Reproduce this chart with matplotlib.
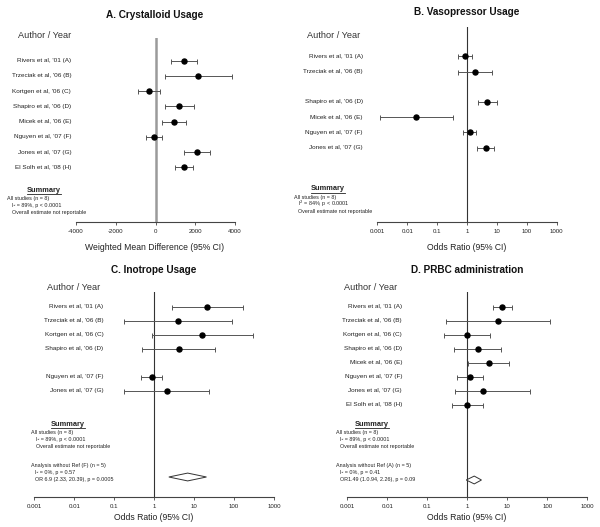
"""Four-panel forest plot: crystalloid, vasopressor, inotrope and PRBC usage."""

import matplotlib

matplotlib.use("Agg")
import matplotlib.pyplot as plt
from matplotlib.lines import Line2D
from matplotlib.patches import Polygon

plt.rcParams["font.family"] = ["Liberation Sans", "DejaVu Sans"]

W, H = 600, 527

# ---- data ---------------------------------------------------------------
a_labels = ["Rivers et al, '01 (A)", "Trzeciak et al, '06 (B)", "Kortgen et al, '06 (C)",
            "Shapiro et al, '06 (D)", "Micek et al, '06 (E)", "Nguyen et al, '07 (F)",
            "Jones et al, '07 (G)", "El Solh et al, '08 (H)"]
a_rows = [0, 1, 2, 3, 4, 5, 6, 7]
a_est = [1450, 2140, -330, 1200, 930, -90, 2090, 1450]
a_lo = [800, 480, -865, 480, 340, -480, 1430, 970]
a_hi = [2100, 3860, 230, 1950, 1520, 330, 2760, 1900]

b_labels = ["Rivers et al, '01 (A)", "Trzeciak et al, '06 (B)", "Shapiro et al, '06 (D)",
            "Micek et al, '06 (E)", "Nguyen et al, '07 (F)", "Jones et al, '07 (G)"]
b_rows = [0, 1, 3, 4, 5, 6]
b_est = [0.86, 1.8, 4.8, 0.02, 1.26, 4.2]
b_lo = [0.51, 0.49, 2.27, 0.0012, 0.75, 2.1]
b_hi = [1.51, 6.7, 10.3, 0.35, 2.0, 8.2]

c_labels = ["Rivers et al, '01 (A)", "Trzeciak et al, '06 (B)", "Kortgen et al, '06 (C)",
            "Shapiro et al, '06 (D)", "Nguyen et al, '07 (F)", "Jones et al, '07 (G)"]
c_rows = [0, 1, 2, 3, 5, 6]
c_est = [20.8, 4.0, 15.6, 4.07, 0.86, 2.07]
c_lo = [2.77, 0.18, 0.89, 0.51, 0.48, 0.18]
c_hi = [163, 91, 300, 34, 1.53, 23]
c_pooled = (6.9, 2.33, 20.39)

d_labels = a_labels
d_rows = [0, 1, 2, 3, 4, 5, 6, 7]
d_est = [7.5, 5.96, 1.0, 1.81, 3.4, 1.14, 2.46, 1.0]
d_lo = [4.47, 0.29, 0.26, 0.46, 1.06, 0.56, 0.48, 0.42]
d_hi = [13.1, 119, 3.76, 7.1, 11.2, 2.4, 37.6, 2.4]
d_pooled = (1.49, 0.94, 2.26)

or_ticks = [0.001, 0.01, 0.1, 1, 10, 100, 1000]
or_ticklabels = ["0.001", "0.01", "0.1", "1", "10", "100", "1000"]
wmd_ticks = [-4000, -2000, 0, 2000, 4000]

summary_all = ["All studies (n = 8)", "I\u00b2 = 89%, p < 0.0001", "Overall estimate not reportable"]
summary_b = ["All studies (n = 8)", "I$^2$ = 84%, p < 0.0001", "Overall estimate not reportable"]
summary_c = ["Analysis without Ref (F) (n = 5)", "I\u00b2 = 0%, p = 0.57",
             "OR 6.9 (2.33, 20.39), p = 0.0005"]
summary_d = ["Analysis without Ref (A) (n = 5)", "I\u00b2 = 0%, p = 0.41",
             "OR1.49 (1.0.94, 2.26), p = 0.09"]

LABEL_FS = 4.6
TITLE_FS = 7.2
HEAD_FS = 6.6
XLAB_FS = 6.2
SMALL_FS = 3.9

fig = plt.figure(figsize=(W / 100, H / 100), dpi=100)
fig.patch.set_facecolor("white")


def fx(x):
    return x / W


def fy(y):
    return 1 - y / H


def make_axes(x0, x1, top, bottom, row0, step):
    ax = fig.add_axes([fx(x0), fy(bottom), fx(x1 - x0), (bottom - top) / H])
    ax.set_ylim((bottom - row0) / step, (top - row0) / step)
    for s in ("top", "right", "left"):
        ax.spines[s].set_visible(False)
    ax.spines["bottom"].set_color("#444444")
    ax.spines["bottom"].set_linewidth(0.8)
    ax.set_yticks([])
    ax.tick_params(axis="x", which="major", length=2.5, width=0.6, color="#444444",
                   labelsize=4.4, pad=2.5, labelcolor="#222222")
    ax.tick_params(axis="x", which="minor", length=0)
    ax.patch.set_alpha(0)
    return ax


def draw_studies(ax, rows, est, lo, hi, labels, label_x):
    xerr = [[e - l for e, l in zip(est, lo)], [h - e for e, h in zip(est, hi)]]
    ax.errorbar(est, rows, xerr=xerr, fmt="o", color="black", ms=3.6,
                ecolor="#555555", elinewidth=0.7, capsize=1.8, capthick=0.7, zorder=3)
    for r, lab in zip(rows, labels):
        ax.text(label_x, r, lab, transform=ax.get_yaxis_transform(), ha="right",
                va="center", fontsize=LABEL_FS, color="#222222", clip_on=False)


def draw_diamond(ax, pooled, row, half):
    est, lo, hi = pooled
    poly = Polygon([(lo, row), (est, row - half), (hi, row), (est, row + half)],
                   closed=True, facecolor="white", edgecolor="#333333", lw=0.7, zorder=3)
    ax.add_patch(poly)


def summary_block(cx, y, lines, x_left, indent, gap=6.8):
    t = fig.text(fx(cx), fy(y), "Summary", ha="center", va="center", fontsize=5.3,
                 fontweight="bold", color="#222222")
    fig.canvas.draw()
    bb = t.get_window_extent()
    fig.add_artist(Line2D([bb.x0 / W, bb.x1 / W], [(bb.y0 - 0.6) / H] * 2,
                          color="#222222", lw=0.6))
    for i, line in enumerate(lines):
        fig.text(fx(x_left + (indent if i > 0 else 0)), fy(y + 8.5 + i * gap), line,
                 ha="left", va="center", fontsize=SMALL_FS, color="#222222")


def sub_block(y, lines, x_left, indent, gap=6.8):
    for i, line in enumerate(lines):
        fig.text(fx(x_left + (indent if i > 0 else 0)), fy(y + i * gap), line,
                 ha="left", va="center", fontsize=SMALL_FS, color="#222222")


def headers(cx, title, title_y, head_x, head_y, xlabel, xlabel_y):
    fig.text(fx(cx), fy(title_y), title, ha="center", va="center",
             fontsize=TITLE_FS, fontweight="bold", color="#111111")
    fig.text(fx(head_x), fy(head_y), "Author / Year", ha="left", va="center",
             fontsize=HEAD_FS, color="#333333")
    fig.text(fx(cx), fy(xlabel_y), xlabel, ha="center", va="center",
             fontsize=XLAB_FS, color="#222222")


def or_axis(ax):
    ax.set_xscale("log")
    ax.set_xlim(0.001, 1000)
    ax.set_xticks(or_ticks)
    ax.set_xticklabels(or_ticklabels)
    ax.axvline(1, color="#333333", lw=0.8, zorder=1)


# ---- A. Crystalloid ------------------------------------------------------
ax_a = make_axes(76, 235, 38, 222, 60.7, 15.23)
ax_a.set_xlim(-4000, 4000)
ax_a.set_xticks(wmd_ticks)
ax_a.set_xticklabels([str(t) for t in wmd_ticks])
ax_a.axvline(0, color="#9a9a9a", lw=1.8, zorder=1)
draw_studies(ax_a, a_rows, a_est, a_lo, a_hi, a_labels, -0.03)
headers(155, "A. Crystalloid Usage", 15, 18, 36, "Weighted Mean Difference (95% CI)", 248)
summary_block(44, 190, summary_all, 7, 4.5)

# ---- B. Vasopressor ------------------------------------------------------
ax_b = make_axes(377.3, 556.7, 27, 222, 56.3, 15.23)
or_axis(ax_b)
draw_studies(ax_b, b_rows, b_est, b_lo, b_hi, b_labels, -0.08)
headers(467, "B. Vasopressor Usage", 12, 307, 36, "Odds Ratio (95% CI)", 248)
summary_block(328, 189, summary_b, 294, 4.5)

# ---- C. Inotrope ---------------------------------------------------------
ax_c = make_axes(34.3, 274, 291.7, 497.3, 306.7, 14.0)
or_axis(ax_c)
draw_studies(ax_c, c_rows, c_est, c_lo, c_hi, c_labels, 0.288)
draw_diamond(ax_c, c_pooled, (477 - 306.7) / 14.0, 0.28)
headers(154, "C. Inotrope Usage", 270, 47, 287, "Odds Ratio (95% CI)", 518)
summary_block(68, 424, summary_all, 31, 4.5)
sub_block(466, summary_c, 31, 4)

# ---- D. PRBC -------------------------------------------------------------
ax_d = make_axes(347.3, 587.3, 291.7, 497.3, 306.7, 14.0)
or_axis(ax_d)
draw_studies(ax_d, d_rows, d_est, d_lo, d_hi, d_labels, 0.228)
draw_diamond(ax_d, d_pooled, (480 - 306.7) / 14.0, 0.28)
headers(467, "D. PRBC administration", 270, 344, 287, "Odds Ratio (95% CI)", 518)
summary_block(372, 424, summary_all, 336, 3.5)
sub_block(466, summary_d, 336, 3.5)

fig.savefig("out.png", dpi=100, facecolor="white")
